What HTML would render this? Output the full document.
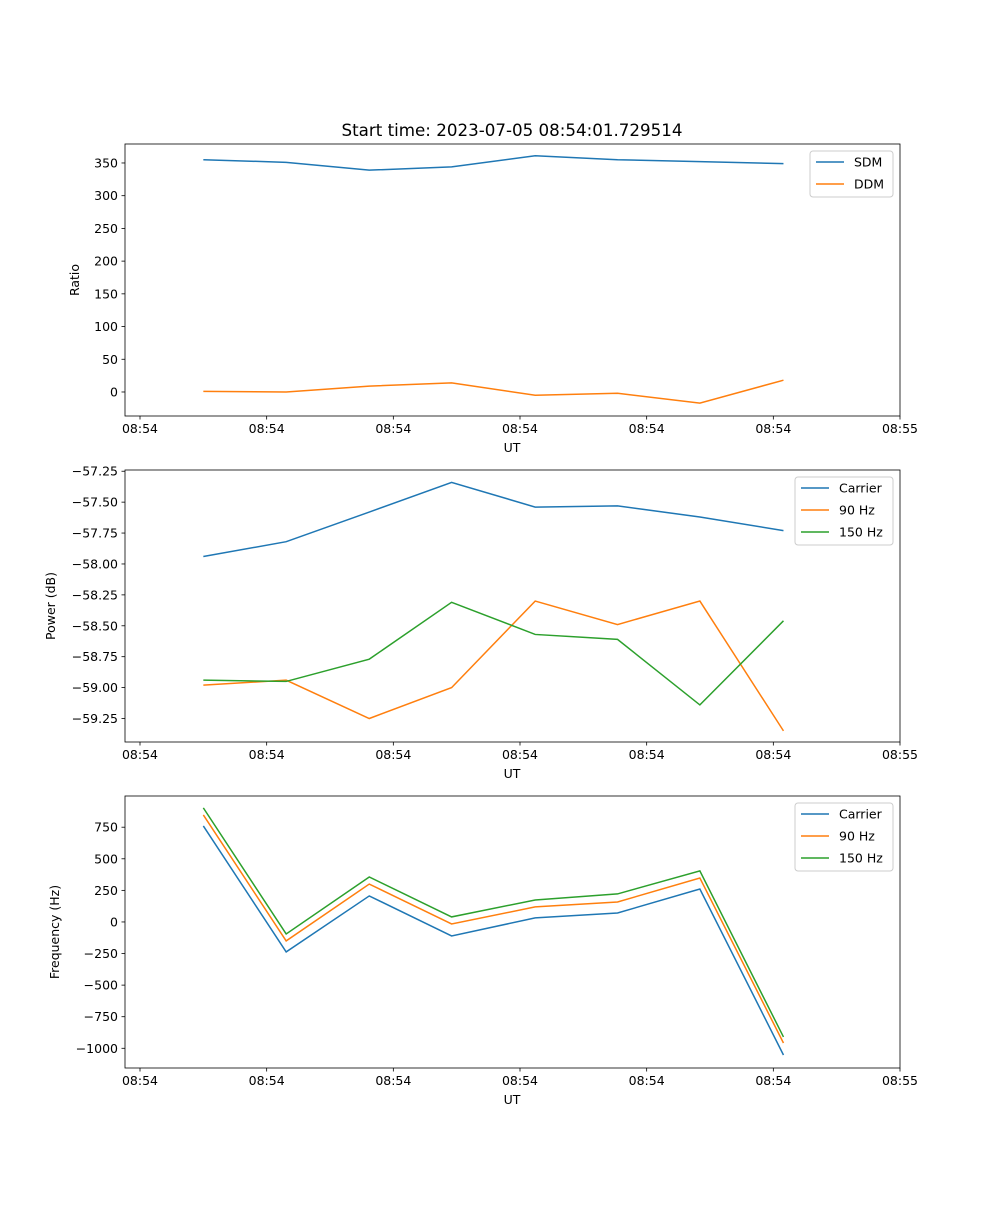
<!DOCTYPE html>
<html><head><meta charset="utf-8"><style>
body{margin:0;background:#fff}
svg text{font-family:"DejaVu Sans","Liberation Sans",sans-serif;fill:#000}
</style></head><body>
<svg id="fig" width="1000" height="1200" xmlns="http://www.w3.org/2000/svg">
<rect width="1000" height="1200" fill="#fff"/>
<text x="512" y="136" font-size="16.7" text-anchor="middle">Start time: 2023-07-05 08:54:01.729514</text>
</svg>
<script>
const times=[2.5,5.77,9.05,12.3,15.6,18.85,22.1,25.4];
const xTicks=[0,5,10,15,20,25,30];
const xTickLabels=["08:54","08:54","08:54","08:54","08:54","08:54","08:55"];
const sdm=[355,351,339,344,361,355,352,349];
const ddm=[1,0,9,14,-5,-2,-17,18];
const powCarrier=[-57.94,-57.82,-57.58,-57.34,-57.54,-57.53,-57.62,-57.73];
const pow90=[-58.98,-58.94,-59.25,-59.0,-58.30,-58.49,-58.30,-59.35];
const pow150=[-58.94,-58.95,-58.77,-58.31,-58.57,-58.61,-59.14,-58.46];
const freqCarrier=[760,-237,206,-111,32,71,261,-1053];
const freq90=[847,-150,300,-16,119,158,348,-958];
const freq150=[903,-95,356,40,174,222,404,-910];
const ratioTicks=[0,50,100,150,200,250,300,350];
const powTicks=[-59.25,-59.0,-58.75,-58.5,-58.25,-58.0,-57.75,-57.5,-57.25];
const freqTicks=[-1000,-750,-500,-250,0,250,500,750];
const C=["#1f77b4","#ff7f0e","#2ca02c"];
const NS="http://www.w3.org/2000/svg";
const FS=12.5;
const svg=document.getElementById('fig');
function el(t,a,p){const e=document.createElementNS(NS,t);for(const k in a)e.setAttribute(k,a[k]);(p||svg).appendChild(e);return e;}
const L=125,R=900;
const xScale=v=>140+(v-0)*(760/30);
function panel(name,top,bot,yMin,yMax,yTicks,fmt,ylabel,ylx,series,legend){
  const g=el('g',{});
  
  
  const y=v=>bot-(v-yMin)/(yMax-yMin)*(bot-top);
  series.forEach((s,i)=>{
    const p=el('polyline',{points:s.data.map((v,j)=>xScale(times[j])+','+y(v)).join(' '),fill:'none',stroke:C[i],'stroke-width':1.5},g);
    
    
  });
  const f=el('rect',{x:L,y:top,width:R-L,height:bot-top,fill:'none',stroke:'#000','stroke-width':0.8},g);
  
  
  xTicks.forEach((t,i)=>{
    const x=xScale(t);
    el('line',{x1:x,x2:x,y1:bot,y2:bot+3.5,stroke:'#000','stroke-width':0.8},g);
    const tx=el('text',{x:x,y:bot+17,'font-size':FS,'text-anchor':'middle'},g);
    tx.textContent=xTickLabels[i];
    
    
  });
  yTicks.forEach(t=>{
    const yy=y(t);
    el('line',{x1:L-3.5,x2:L,y1:yy,y2:yy,stroke:'#000','stroke-width':0.8},g);
    const tx=el('text',{x:L-7,y:yy+4.5,'font-size':FS,'text-anchor':'end'},g);
    tx.textContent=fmt(t);
    
    
  });
  const xl=el('text',{x:512,y:bot+36,'font-size':FS,'text-anchor':'middle'},g);
  xl.textContent='UT';
  
  
  const yl=el('text',{x:ylx,y:(top+bot)/2,'font-size':FS,'text-anchor':'middle',transform:`rotate(-90 ${ylx} ${(top+bot)/2})`},g);
  yl.textContent=ylabel;
  
  
  const lg=el('g',{},g);
  
  
  el('rect',{x:legend.x,y:top+7,width:R-7-legend.x,height:series.length*22+2,rx:3,fill:'#fff',stroke:'#ccc','stroke-width':1},lg);
  series.forEach((s,i)=>{
    const yy=top+18+i*22;
    el('line',{x1:legend.x+6,x2:legend.x+34,y1:yy,y2:yy,stroke:C[i],'stroke-width':1.5},lg);
    const t=el('text',{x:legend.x+44,y:yy+4.5,'font-size':FS},lg);
    t.textContent=s.label;
    
    
  });
}
panel('ratio',144,416,-36.7,379,ratioTicks,v=>String(v),'Ratio',79,
  [{key:'sdm',label:'SDM',data:sdm},{key:'ddm',label:'DDM',data:ddm}],{x:810});
panel('power',470,742,-59.44,-57.24,powTicks,v=>(v<0?'\u2212':'')+Math.abs(v).toFixed(2),'Power (dB)',55,
  [{key:'carrier',label:'Carrier',data:powCarrier},{key:'90hz',label:'90 Hz',data:pow90},{key:'150hz',label:'150 Hz',data:pow150}],{x:795});
panel('frequency',796,1068,-1156,997,freqTicks,v=>(v<0?'\u2212':'')+Math.abs(v),'Frequency (Hz)',59,
  [{key:'carrier',label:'Carrier',data:freqCarrier},{key:'90hz',label:'90 Hz',data:freq90},{key:'150hz',label:'150 Hz',data:freq150}],{x:795});
</script>
</body></html>
